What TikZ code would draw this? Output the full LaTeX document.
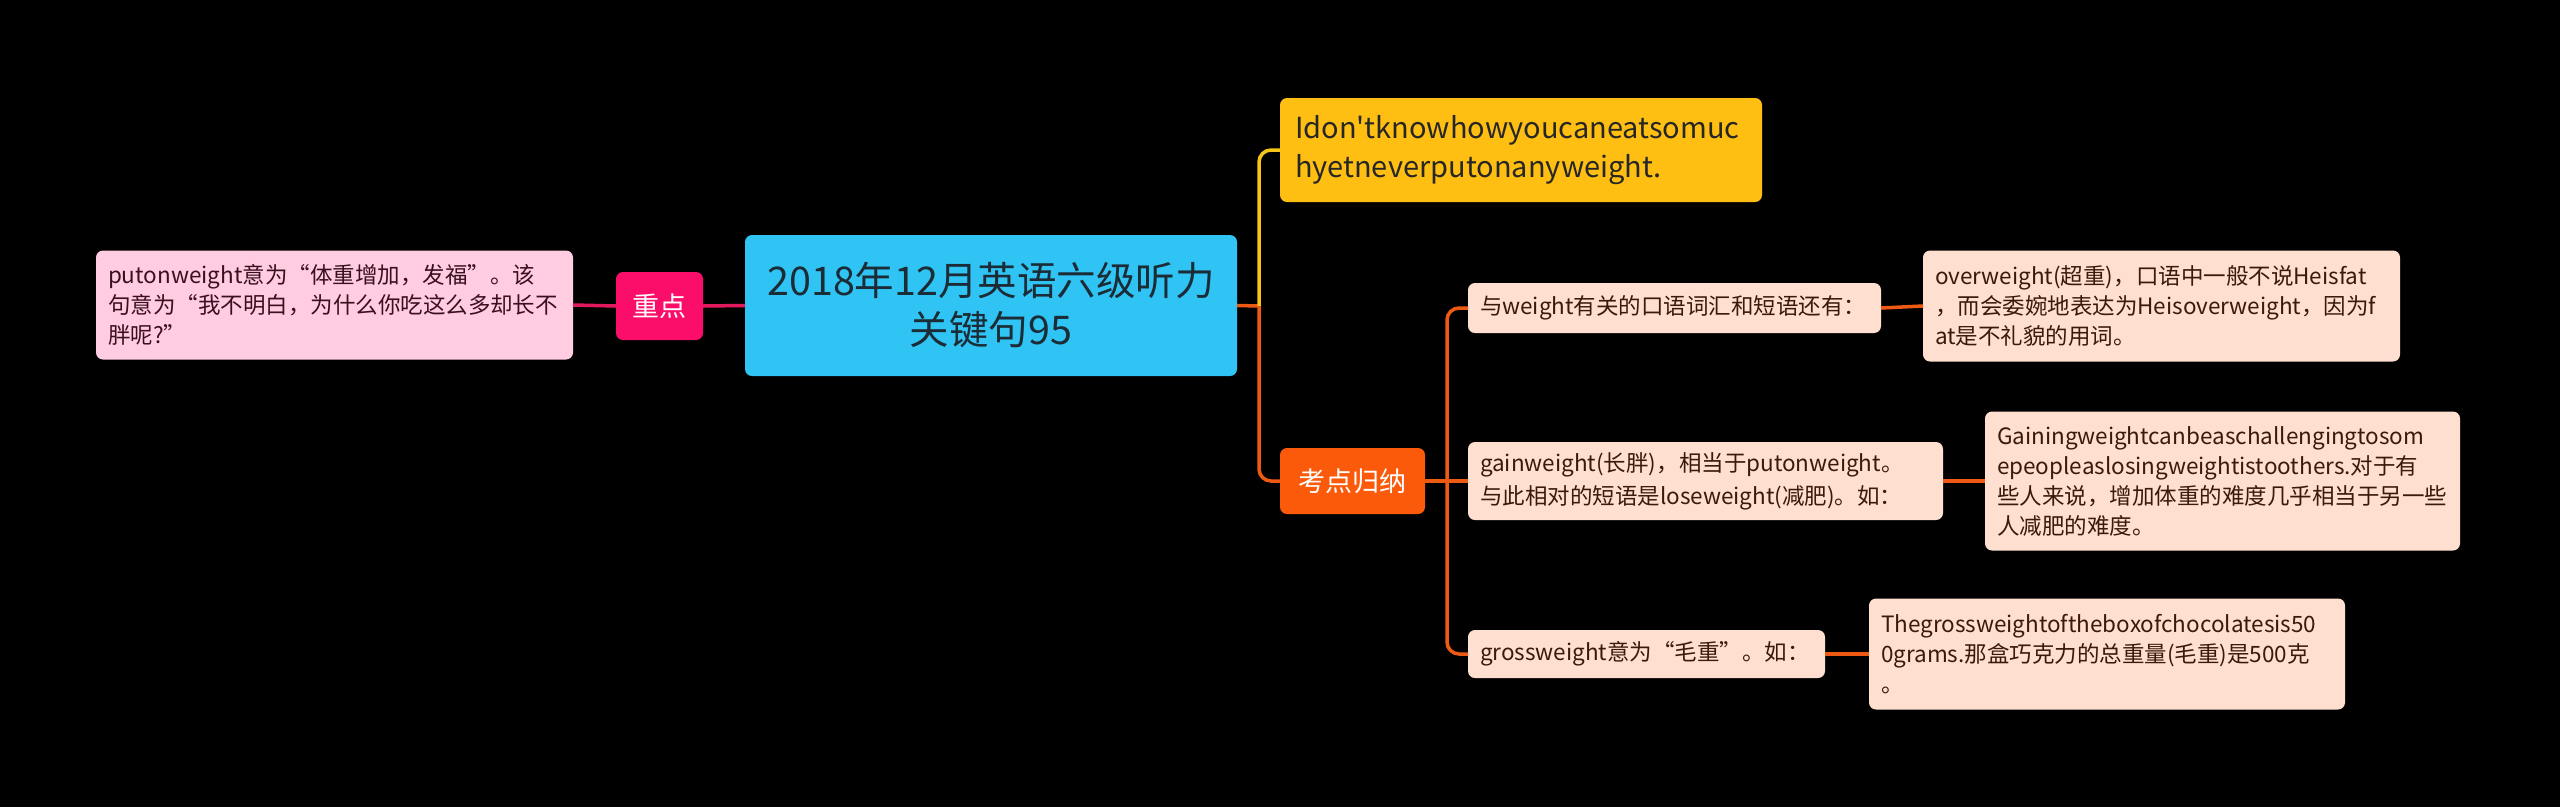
\documentclass[tikz,border=0pt]{standalone}
\usepackage{fontspec}
\usepackage{xcolor}
\usetikzlibrary{positioning,calc}
\newfontfamily\cnfont{Noto Sans CJK SC}
\definecolor{rootblue}{HTML}{30C4F4}
\definecolor{rootink}{HTML}{1B2C36}
\definecolor{keypink}{HTML}{FA0E6A}
\definecolor{linepink}{HTML}{E3195F}
\definecolor{softpink}{HTML}{FFCCE1}
\definecolor{pinkink}{HTML}{3A1020}
\definecolor{quoteyellow}{HTML}{FFBF12}
\definecolor{lineyellow}{HTML}{F5C518}
\definecolor{keyorange}{HTML}{FA5A0A}
\definecolor{lineorange}{HTML}{EE5A14}
\definecolor{softpeach}{HTML}{FFE0D0}
\definecolor{peachink}{HTML}{3B1A0C}

\begin{document}
\begin{tikzpicture}[x=1pt, y=-1pt, every node/.style={inner sep=0pt, outer sep=0pt},
  box/.style={rounded corners=7pt, anchor=west, align=left, inner xsep=12pt},
  small/.style={font=\cnfont\fontsize{22.5}{30}\selectfont},
  peach/.style={box, small, fill=softpeach, text=peachink},
  keybox/.style={box, align=center, text=white, font=\cnfont\fontsize{27}{32}\selectfont},
  wire/.style={line width=3.5pt}]
  \fill[black] (0,0) rectangle (2560,807);

  % main topic and the left side
  \node[box, fill=rootblue, text=rootink, align=center, minimum width=492pt, minimum height=141pt,
        font=\cnfont\fontsize{39.5}{49}\selectfont] (root) at (745,305.5) {2018年12月英语六级听力\\关键句95};
  \node[keybox, fill=keypink, minimum width=87pt, minimum height=68pt] (keyA) at (616,306) {重点};
  \node[box, small, fill=softpink, text=pinkink, text width=453pt, minimum height=109pt] (note) at (96,305)
    {putonweight意为“体重增加，发福”。该\\句意为“我不明白，为什么你吃这么多却长不\\胖呢?”};

  % right side
  \node[box, fill=quoteyellow, text=black!85, inner xsep=15pt, text width=452pt, minimum height=104pt,
        font=\cnfont\fontsize{29}{39}\selectfont] (quote) at (1280,150)
    {\mbox{Idon'tknowhowyoucaneatsomuc}\\\mbox{hyetneverputonanyweight.}};
  \node[keybox, fill=keyorange, minimum width=145pt, minimum height=66pt] (keyB) at (1280,481) {考点归纳};

  \node[peach, text width=389pt, minimum height=50pt] (sub1) at (1468,308) {与weight有关的口语词汇和短语还有：};
  \node[peach, text width=451pt, minimum height=78pt, font=\cnfont\fontsize{22.5}{33}\selectfont] (sub2) at (1468,481)
    {gainweight(长胖)，相当于putonweight。\\与此相对的短语是loseweight(减肥)。如：};
  \node[peach, text width=333pt, minimum height=48pt] (sub3) at (1468,654) {grossweight意为“毛重”。如：};

  \node[peach, text width=453pt, minimum height=111pt] (det1) at (1923,306)
    {overweight(超重)，口语中一般不说Heisfat\\，而会委婉地表达为Heisoverweight，因为f\\at是不礼貌的用词。};
  \node[peach, text width=451pt, minimum height=139pt] (det2) at (1985,481)
    {Gainingweightcanbeaschallengingtosom\\epeopleaslosingweightistoothers.对于有\\些人来说，增加体重的难度几乎相当于另一些\\人减肥的难度。};
  \node[peach, text width=452pt, minimum height=111pt] (det3) at (1869,654)
    {Thegrossweightoftheboxofchocolatesis50\\0grams.那盒巧克力的总重量(毛重)是500克\\。};

  \coordinate (jA) at (1259,306);
  \coordinate (jB) at (1447,481);

  \draw[wire, linepink] (note.east) -- (keyA.west);
  \draw[wire, linepink] (keyA.east) -- (root.west);
  \draw[wire, lineorange] (root.east) -- (jA);
  \draw[wire, lineyellow, rounded corners=12pt] (jA) |- (quote.west);
  \draw[wire, lineorange, rounded corners=12pt] (jA) |- (keyB.west);
  \draw[wire, lineorange] (keyB.east) -- (sub2.west);
  \draw[wire, lineorange, rounded corners=12pt] (jB) |- (sub1.west);
  \draw[wire, lineorange, rounded corners=12pt] (jB) |- (sub3.west);
  \draw[wire, lineorange] (sub1.east) -- (det1.west);
  \draw[wire, lineorange] (sub2.east) -- (det2.west);
  \draw[wire, lineorange] (sub3.east) -- (det3.west);
\end{tikzpicture}
\end{document}
